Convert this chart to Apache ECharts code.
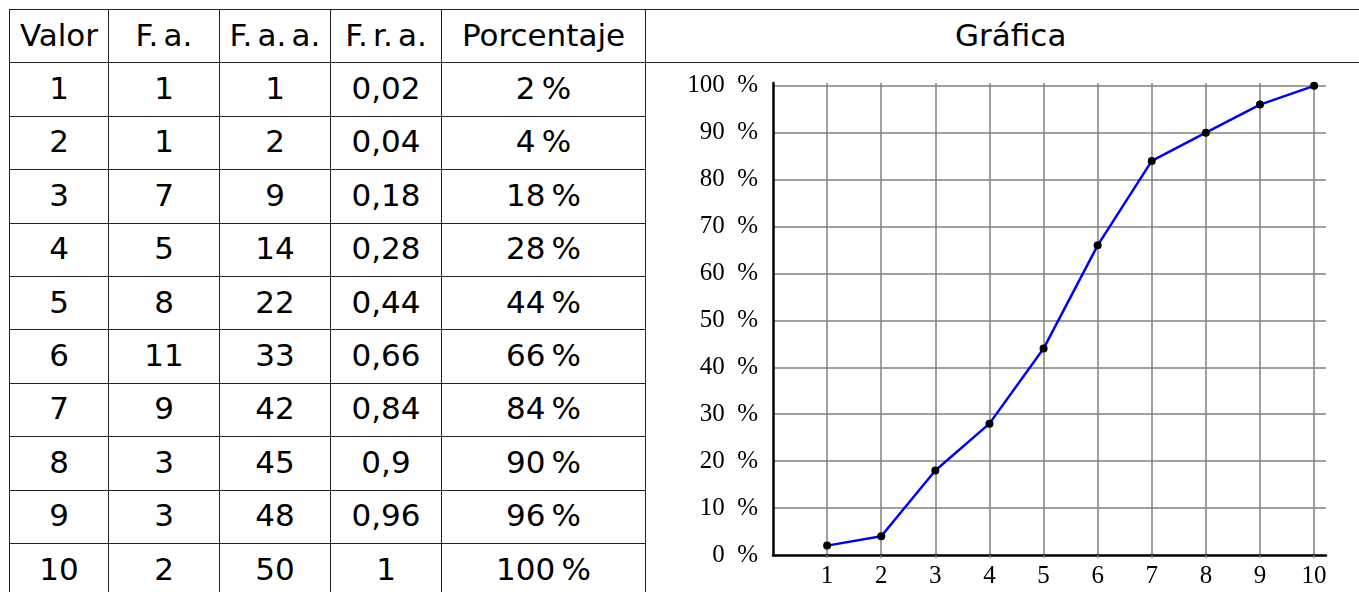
<!DOCTYPE html>
<html>
<head>
<meta charset="utf-8">
<script src="https://cdn.jsdelivr.net/npm/echarts@6/dist/echarts.min.js"></script>
<style>
  html, body { margin: 0; padding: 0; background: #fff; width: 1359px; height: 592px; overflow: hidden; }
  #tbl { position: absolute; left: 9px; top: 9px; border-collapse: collapse; font-family: "DejaVu Sans", sans-serif; font-size: 31px; color: #000; }
  #tbl td { border: 1.5px solid #222; padding: 0 0 3px 0; text-align: center; vertical-align: middle; white-space: nowrap; box-sizing: border-box; }
  #tbl tr { height: 53.4px; }
  #tbl tr.h td { word-spacing: -0.15em; }
  #tbl td.pc { word-spacing: -0.12em; }
  #tbl td.g { border-right: none; }
  #tbl td.blank { border-right: none; border-bottom: none; }
  #chart { position: absolute; left: 645px; top: 62px; width: 714px; height: 530px; }
</style>
</head>
<body>
<table id="tbl"></table>
<div id="chart"></div>
<script>
// ---- data ----
const headers = ["Valor", "F. a.", "F. a. a.", "F. r. a.", "Porcentaje"];
const chartTitle = "Gráfica";
const valores = [1, 2, 3, 4, 5, 6, 7, 8, 9, 10];
const frecAbs = [1, 1, 7, 5, 8, 11, 9, 3, 3, 2];
const frecAbsAcum = [1, 2, 9, 14, 22, 33, 42, 45, 48, 50];
const frecRelAcum = ["0,02", "0,04", "0,18", "0,28", "0,44", "0,66", "0,84", "0,9", "0,96", "1"];
const porcentaje = [2, 4, 18, 28, 44, 66, 84, 90, 96, 100];

// ---- table ----
const colWidths = [99, 111, 111, 111, 204, 730];
const tbl = document.getElementById('tbl');
const cg = document.createElement('colgroup');
colWidths.forEach(w => { const c = document.createElement('col'); c.style.width = w + 'px'; cg.appendChild(c); });
tbl.appendChild(cg);
tbl.style.width = colWidths.reduce((a, b) => a + b, 0) + 'px';
tbl.style.tableLayout = 'fixed';
const hr = document.createElement('tr'); hr.className = 'h';
headers.concat([chartTitle]).forEach((h, i) => {
  const td = document.createElement('td'); td.textContent = h;
  if (i === headers.length) td.className = 'g';
  hr.appendChild(td);
});
tbl.appendChild(hr);
valores.forEach((v, i) => {
  const tr = document.createElement('tr');
  [v, frecAbs[i], frecAbsAcum[i], frecRelAcum[i], porcentaje[i] + ' %'].forEach((t, j) => {
    const td = document.createElement('td'); td.textContent = t;
    if (j === 4) td.className = 'pc';
    tr.appendChild(td);
  });
  if (i === 0) {
    const td = document.createElement('td'); td.rowSpan = valores.length; td.className = 'blank';
    tr.appendChild(td);
  }
  tbl.appendChild(tr);
});

// ---- chart ----
const chart = echarts.init(document.getElementById('chart'), null, { renderer: 'canvas' });
const serif = '"Liberation Serif", "DejaVu Serif", serif';
chart.setOption({
  animation: false,
  backgroundColor: 'transparent',
  grid: { left: 128, right: 33, top: 21, bottom: 37, containLabel: false },
  xAxis: {
    type: 'value', min: 0, max: 10.22, interval: 1,
    axisLine: { show: true, onZero: false, lineStyle: { color: '#000', width: 2.5 } },
    axisTick: { show: true, length: 3, lineStyle: { color: '#808080', width: 1.5 } },
    axisLabel: {
      show: true, margin: 9, color: '#000', fontFamily: serif, fontSize: 25,
      showMinLabel: false, showMaxLabel: false,
      formatter: v => (Number.isInteger(v) ? String(v) : '')
    },
    splitLine: { show: true, showMinLine: false, showMaxLine: false, lineStyle: { color: '#808080', width: 1.5 } }
  },
  yAxis: {
    type: 'value', min: 0, max: 100.6, interval: 10,
    axisLine: { show: true, lineStyle: { color: '#000', width: 2.5 } },
    axisTick: { show: false },
    axisLabel: {
      show: true, margin: 15, color: '#000', fontFamily: serif, fontSize: 25,
      showMaxLabel: false,
      formatter: v => (Number.isInteger(v) ? v + '  %' : '')
    },
    splitLine: { show: true, showMinLine: false, showMaxLine: false, lineStyle: { color: '#808080', width: 1.5 } }
  },
  series: [{
    type: 'line',
    data: valores.map((v, i) => [v, porcentaje[i]]),
    lineStyle: { color: '#0000ff', width: 2.5 },
    itemStyle: { color: '#000' },
    symbol: 'circle', symbolSize: 8,
    z: 3
  }]
});
</script>
</body>
</html>
